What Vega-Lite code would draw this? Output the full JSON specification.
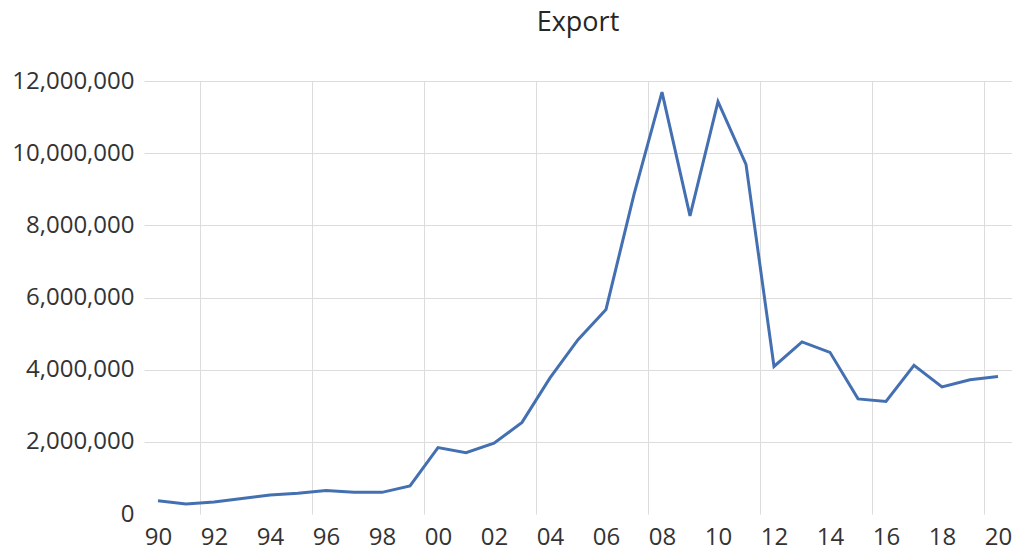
{
  "$schema": "https://vega.github.io/schema/vega-lite/v6.json",
  "autosize": {"type": "none"},
  "padding": {"left": 144, "top": 81, "right": 0, "bottom": 40},
  "width": 868,
  "height": 433,
  "title": {
    "text": "Export",
    "anchor": "middle",
    "font": "Open Sans",
    "fontSize": 27,
    "fontWeight": "normal",
    "color": "#262626",
    "offset": 32
  },
  "config": {
    "view": {"stroke": null},
    "axis": {
      "labelFont": "Open Sans",
      "labelFontSize": 24,
      "labelColor": "#333333",
      "ticks": false,
      "domain": false,
      "gridColor": "#dcdcdc",
      "gridWidth": 1
    }
  },
  "data": {
    "values": [
      {"year": 1990, "export": 370000},
      {"year": 1991, "export": 280000},
      {"year": 1992, "export": 330000},
      {"year": 1993, "export": 430000},
      {"year": 1994, "export": 525000},
      {"year": 1995, "export": 575000},
      {"year": 1996, "export": 650000},
      {"year": 1997, "export": 605000},
      {"year": 1998, "export": 600000},
      {"year": 1999, "export": 780000},
      {"year": 2000, "export": 1840000},
      {"year": 2001, "export": 1700000},
      {"year": 2002, "export": 1960000},
      {"year": 2003, "export": 2540000},
      {"year": 2004, "export": 3770000},
      {"year": 2005, "export": 4830000},
      {"year": 2006, "export": 5670000},
      {"year": 2007, "export": 8860000},
      {"year": 2008, "export": 11690000},
      {"year": 2009, "export": 8260000},
      {"year": 2010, "export": 11430000},
      {"year": 2011, "export": 9690000},
      {"year": 2012, "export": 4090000},
      {"year": 2013, "export": 4770000},
      {"year": 2014, "export": 4480000},
      {"year": 2015, "export": 3190000},
      {"year": 2016, "export": 3120000},
      {"year": 2017, "export": 4120000},
      {"year": 2018, "export": 3520000},
      {"year": 2019, "export": 3720000},
      {"year": 2020, "export": 3810000}
    ]
  },
  "mark": {"type": "line", "color": "#4470b2", "strokeWidth": 3, "strokeJoin": "miter"},
  "encoding": {
    "x": {
      "field": "year",
      "type": "quantitative",
      "title": null,
      "scale": {"domain": [1989.5, 2020.5], "nice": false, "zero": false},
      "axis": {
        "values": [1990, 1991.5, 1992, 1994, 1995.5, 1996, 1998, 1999.5, 2000, 2002, 2003.5, 2004, 2006, 2007.5, 2008, 2010, 2011.5, 2012, 2014, 2015.5, 2016, 2018, 2019.5, 2020],
        "format": "d",
        "labelExpr": "datum.value % 2 === 0 ? slice(datum.label, 2) : ''",
        "labelOverlap": false,
        "labelFlush": false,
        "labelPadding": 11,
        "grid": true,
        "gridOpacity": {"condition": {"test": "datum.value % 1 !== 0", "value": 1}, "value": 0}
      }
    },
    "y": {
      "field": "export",
      "type": "quantitative",
      "title": null,
      "scale": {"domain": [0, 12000000], "nice": false},
      "axis": {
        "values": [0, 2000000, 4000000, 6000000, 8000000, 10000000, 12000000],
        "format": ",d",
        "labelPadding": 10,
        "grid": true,
        "gridOpacity": {"condition": {"test": "datum.value === 0", "value": 0}, "value": 1}
      }
    }
  }
}
